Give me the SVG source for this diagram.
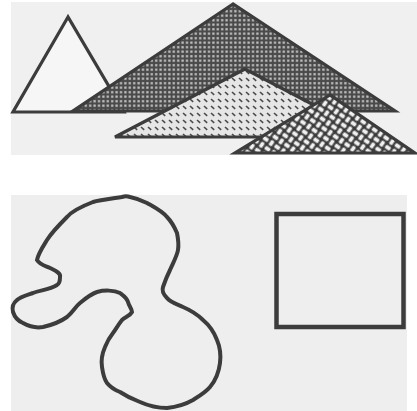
<svg xmlns="http://www.w3.org/2000/svg" width="417" height="411" viewBox="0 0 417 411">
<defs>
<pattern id="dots" width="4.4" height="4.5" patternUnits="userSpaceOnUse">
<rect width="4.4" height="4.5" fill="#4a4a4a"/>
<rect x="1.1" y="1.1" width="2.2" height="2.2" fill="#c8c8c8"/>
</pattern>
<pattern id="dash" width="7" height="7" patternUnits="userSpaceOnUse">
<rect width="7" height="7" fill="#e6e6e6"/>
<path d="M1 1 L4.2 3.8" stroke="#4a4a4a" stroke-width="1.6"/>
</pattern>
<pattern id="weave" width="14" height="14" patternUnits="userSpaceOnUse" patternTransform="rotate(35)">
<rect width="14" height="14" fill="#3a3a3a"/>
<rect x="0.6" y="1.6" width="5.8" height="3.8" rx="1.2" fill="#f0f0f0"/>
<rect x="7.6" y="8.6" width="5.8" height="3.8" rx="1.2" fill="#f0f0f0"/>
<rect x="8.6" y="0.6" width="3.8" height="5.8" rx="1.2" fill="#f0f0f0"/>
<rect x="1.6" y="7.6" width="3.8" height="5.8" rx="1.2" fill="#f0f0f0"/>
</pattern>
<style>
.o{stroke:#3c3c3c;stroke-linejoin:miter;}
.t{stroke-width:3.2;}
</style>
</defs>
<rect width="417" height="411" fill="#fff"/>
<rect x="11" y="2" width="406" height="153" fill="#f0f0f0"/>
<rect x="11" y="195" width="396" height="216" fill="#eeeeee"/>
<g id="white-triangle"><polygon class="o t" points="68,17 13,112 124,112" fill="#f6f6f6"/></g>
<g id="dotted-triangle"><polygon class="o t" points="233,4 73,111 395,111" fill="url(#dots)"/></g>
<g id="dashed-triangle"><polygon class="o t" points="245,69 115,137 375,137" fill="url(#dash)"/></g>
<g id="woven-triangle"><polygon class="o t" points="330,95 235,153 415,153" fill="url(#weave)"/></g>
<g id="blob"><path class="o" fill="none" stroke-width="4" d="M122,197 C108,199 99,200 93,202 C80,207 72,211 67,217 C58,226 52,232 47,240 C42,248 38,254 37,260 C40,265 46,266 50,268 C56,271 61,273 60,277 C60,282 59,284 57,285 C49,290 40,290 33,293 C24,296 20,297 17,300 C12,304 12,308 13,312 C15,318 18,321 23,323 C30,327 37,328 43,327 C52,325 60,322 67,317 C73,312 75,307 80,303 C86,298 91,294 97,292 C104,290 114,290 120,293 C124,296 127,298 128,302 C129,306 132,309 132,312 C130,316 125,317 122,320 C118,325 116,329 113,333 C109,338 107,342 105,347 C102,354 101,361 102,367 C103,374 104,379 107,383 C111,388 115,390 120,392 C126,396 132,399 140,402 C149,406 158,408 167,408 C176,407 186,404 193,400 C201,395 206,392 210,387 C216,380 219,371 220,363 C221,355 220,347 217,340 C214,332 209,325 203,320 C197,314 190,310 183,307 C176,304 170,302 167,298 C163,294 162,290 163,287 C165,281 167,276 170,270 C173,263 177,256 178,250 C179,244 178,238 177,233 C174,226 171,221 167,217 C162,211 154,207 147,203 C141,200 135,198 130,197 C127,196 125,196 122,197 Z"/></g>
<g id="square"><rect class="o" x="276.5" y="214" width="127" height="113" fill="none" stroke-width="4.5"/></g>
<g id="connectors"></g>
</svg>
